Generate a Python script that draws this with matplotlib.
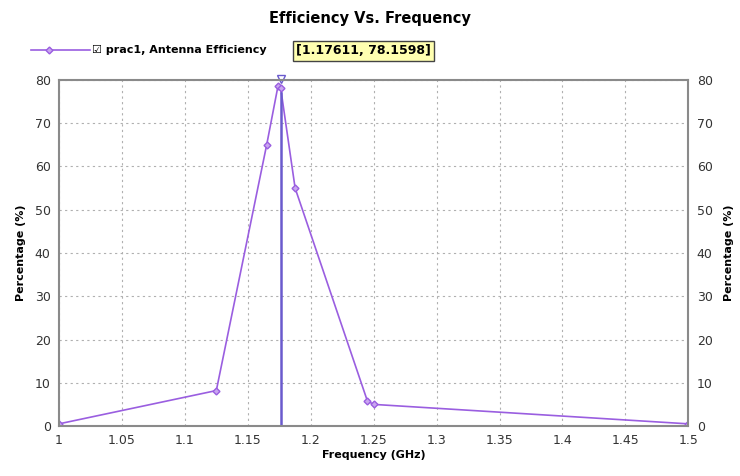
import matplotlib
matplotlib.use("Agg")
import matplotlib.pyplot as plt
from matplotlib.lines import Line2D

freq = [1.0, 1.125, 1.165, 1.174, 1.17611, 1.1876, 1.245, 1.25, 1.5]
eff = [0.5, 8.2, 65.0, 78.6, 78.1598, 55.0, 5.8, 5.0, 0.5]
marker_x = 1.17611
marker_y = 78.1598
xticks = [1, 1.05, 1.1, 1.15, 1.2, 1.25, 1.3, 1.35, 1.4, 1.45, 1.5]
xtick_labels = ["1", "1.05", "1.1", "1.15", "1.2", "1.25", "1.3", "1.35", "1.4", "1.45", "1.5"]
yticks = [0, 10, 20, 30, 40, 50, 60, 70, 80]

line_color = "#9a5ee0"
fig = plt.figure(figsize=(7.4, 4.76), dpi=100)
ax = fig.add_axes([0.0797, 0.105, 0.8505, 0.727])

ax.plot(freq, eff, color=line_color, lw=1.2, marker="D", ms=3.5, mfc="#c9a6f0", mec=line_color)
ax.plot([marker_x, marker_x], [0, 77], color="#6a5acd", lw=1.8)
ax.plot([marker_x], [80.3], marker="v", ms=6, mfc="white", mec="#6a5acd", clip_on=False)

ax.set_xlim(1.0, 1.5)
ax.set_ylim(0, 80)
ax.set_xticks(xticks)
ax.set_xticklabels(xtick_labels)
ax.set_yticks(yticks)
ax.grid(True, color="#b0b0b0", linestyle=(0, (2, 3)), lw=0.8)
for s in ax.spines.values():
    s.set_color("#8a8a8a")
    s.set_linewidth(1.5)
ax.tick_params(labelsize=9, colors="#333333", length=0, pad=6)

ax.set_xlabel("Frequency (GHz)", fontsize=8, fontweight="bold", labelpad=2)
ax.set_ylabel("Percentage (%)", fontsize=8, fontweight="bold", labelpad=6)
ax2 = ax.twinx()
ax2.set_ylim(0, 80)
ax2.set_yticks(yticks)
ax2.tick_params(labelsize=9, colors="#333333", length=0, pad=6)
ax2.set_ylabel("Percentage (%)", fontsize=8, fontweight="bold", labelpad=8)
for s in ax2.spines.values():
    s.set_visible(False)

fig.text(0.5, 0.962, "Efficiency Vs. Frequency", ha="center", va="center",
         fontsize=10.5, fontweight="bold")

# legend
fig.add_artist(Line2D([0.042, 0.122], [0.896, 0.896], color=line_color, lw=1.2,
                      transform=fig.transFigure))
fig.add_artist(Line2D([0.066], [0.896], color=line_color, lw=0,
                      marker="D", ms=3.5, mfc="#c9a6f0", mec=line_color,
                      transform=fig.transFigure))
fig.text(0.124, 0.896, "\u2611 prac1, Antenna Efficiency", ha="left", va="center",
         fontsize=8, fontweight="bold", family=["DejaVu Sans"])

fig.text(0.4, 0.893, "[1.17611, 78.1598]", ha="left", va="center", fontsize=9,
         fontweight="bold",
         bbox=dict(boxstyle="square,pad=0.25", fc="#ffffb0", ec="#444444", lw=1))

fig.savefig("out.png", dpi=100)
